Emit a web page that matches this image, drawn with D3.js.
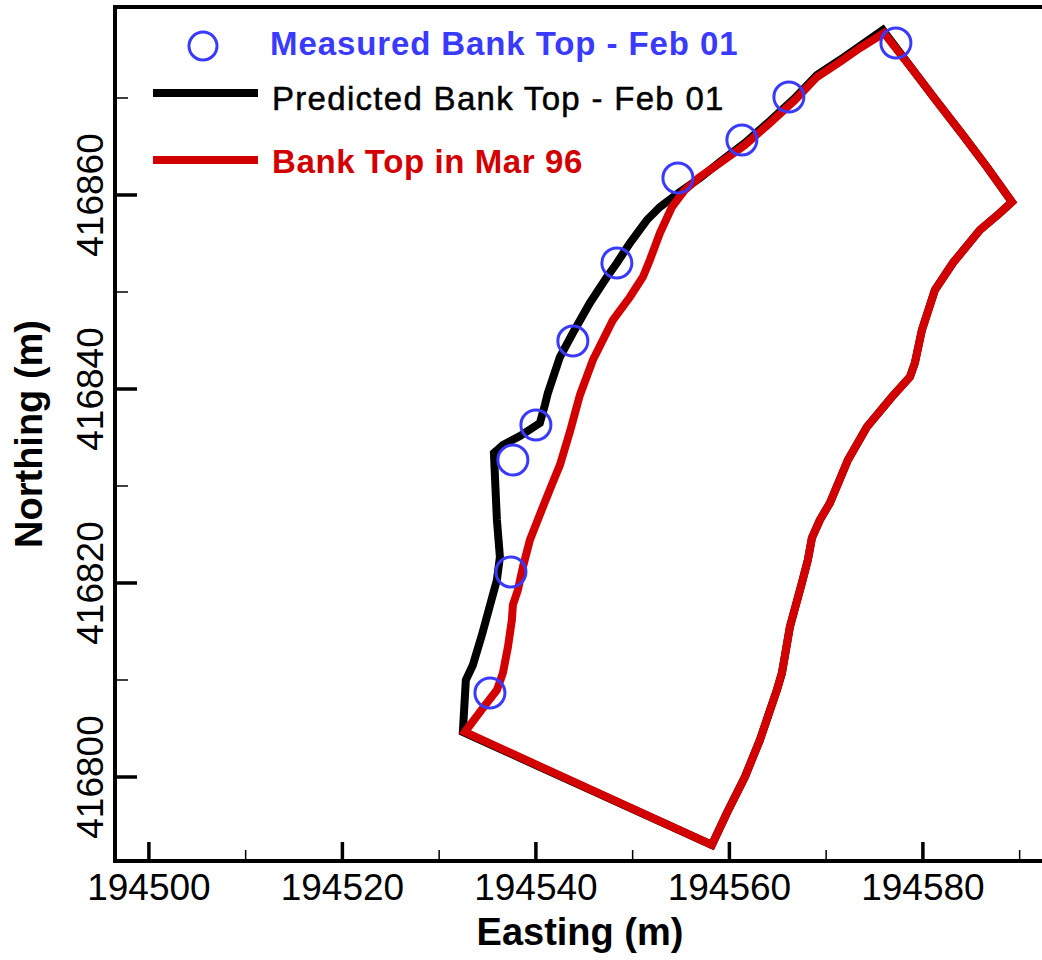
<!DOCTYPE html>
<html>
<head>
<meta charset="utf-8">
<script src="https://cdn.jsdelivr.net/npm/d3@7"></script>
<style>
  body { margin: 0; background: #fff; }
  svg { display: block; }
</style>
</head>
<body>
<svg id="chart" width="1042" height="960"></svg>
<script>
// ---- Axis ticks ----
const eastingMajor = [194500, 194520, 194540, 194560, 194580];
const eastingMinor = [194510, 194530, 194550, 194570, 194590];
const northingMajor = [416800, 416820, 416840, 416860];
const northingMinor = [416810, 416830, 416850, 416870];

// ---- Measured bank top, Feb 2001 ----
const measuredE = [194535.25, 194537.42, 194537.62, 194540.00, 194543.82, 194548.37, 194554.68, 194561.29, 194566.15, 194577.21];
const measuredN = [416808.66, 416821.13, 416832.68, 416836.29, 416844.95, 416852.99, 416861.75, 416865.67, 416870.10, 416875.67];

// ---- Predicted left bank top, Feb 2001 (downstream corner to upstream corner) ----
const predictedE = [194532.45, 194532.76, 194533.49, 194534.42, 194535.04, 194535.97, 194536.28, 194535.97, 194535.66, 194536.59,
                    194538.35, 194540.41, 194540.93, 194541.24, 194542.48, 194543.82, 194545.58, 194547.34, 194548.37, 194549.72,
                    194551.47, 194552.82, 194554.88, 194556.95, 194559.02, 194561.60, 194564.19, 194566.77, 194569.04, 194571.42,
                    194573.49, 194575.86];
const predictedN = [416804.64, 416810.00, 416811.55, 416814.64, 416816.91, 416820.31, 416822.68, 416826.49, 416833.40, 416834.23,
                    416835.15, 416836.49, 416838.35, 416839.59, 416843.30, 416845.77, 416848.87, 416851.55, 416852.99, 416855.05,
                    416857.42, 416858.76, 416860.31, 416861.75, 416863.40, 416865.36, 416867.63, 416870.00, 416872.37, 416873.92,
                    416875.36, 416877.01];

// ---- Left bank top, Mar 1996 ----
const mar96E = [194532.66, 194534.52, 194535.97, 194536.59, 194537.11, 194537.52, 194537.62, 194538.14, 194538.66, 194539.38,
                194540.72, 194541.76, 194542.48, 194543.51, 194544.55, 194545.89, 194547.96, 194549.72, 194551.06, 194551.78,
                194552.82, 194554.06, 194555.40, 194556.95, 194559.02, 194561.60, 194564.19, 194566.77, 194569.04, 194571.42,
                194573.49, 194575.97];
const mar96N = [416804.64, 416807.11, 416808.97, 416810.72, 416813.40, 416816.19, 416817.73, 416819.28, 416821.65, 416824.43,
                416827.84, 416830.41, 416832.16, 416835.57, 416839.38, 416842.99, 416847.11, 416849.48, 416851.55, 416853.30,
                416856.08, 416858.76, 416860.52, 416861.86, 416863.30, 416865.15, 416867.42, 416869.79, 416872.16, 416873.71,
                416875.15, 416876.70];

// ---- Shared outer boundary: upstream end, right bank, downstream end ----
const outerE = [194578.97, 194581.24, 194584.13, 194586.61, 194589.20, 194587.96, 194585.89, 194583.10, 194581.24, 194579.90,
                194579.17, 194578.66, 194576.80, 194574.21, 194572.25, 194570.39, 194569.35, 194568.53, 194568.11, 194567.49,
                194566.25, 194565.43, 194564.91, 194563.15, 194561.60, 194559.74, 194558.19];
const outerN = [416872.89, 416869.90, 416866.19, 416862.89, 416859.28, 416858.14, 416856.39, 416852.99, 416850.21, 416846.08,
                416842.68, 416841.24, 416839.18, 416836.08, 416832.68, 416828.25, 416826.49, 416824.64, 416822.37, 416820.00,
                416815.46, 416810.72, 416808.97, 416803.81, 416800.00, 416796.29, 416792.99];

(function drawChart() {
  const svg = d3.select("#chart");
  const pLeft = 116, pRight = 1044.8, pTop = 7, pBottom = 861;
  const x = d3.scaleLinear().domain([194496.6, 194592.6]).range([pLeft, pRight]);
  const y = d3.scaleLinear().domain([416791.34, 416879.38]).range([pBottom, pTop]);

  const BLUE = "#3a3aff", RED = "#d20000", BLACK = "#000";
  const FONT = "'Liberation Sans', Arial, Helvetica, sans-serif";

  const toPts = (es, ns) => es.map((e, i) => [e, ns[i]]);
  const predictedLoop = toPts(predictedE, predictedN).concat(toPts(outerE, outerN));
  const mar96Loop = toPts(mar96E, mar96N).concat(toPts(outerE, outerN));

  const loop = d3.line().x(d => x(d[0])).y(d => y(d[1])).curve(d3.curveLinearClosed);

  const plot = svg.append("g");
  plot.append("path").attr("d", loop(predictedLoop))
    .attr("fill", "none").attr("stroke", BLACK).attr("stroke-width", 8)
    .attr("stroke-linejoin", "miter").attr("stroke-miterlimit", 10);
  plot.append("path").attr("d", loop(mar96Loop))
    .attr("fill", "none").attr("stroke", RED).attr("stroke-width", 8)
    .attr("stroke-linejoin", "miter").attr("stroke-miterlimit", 10);
  plot.selectAll("circle.meas").data(toPts(measuredE, measuredN)).join("circle")
    .attr("class", "meas")
    .attr("cx", d => x(d[0])).attr("cy", d => y(d[1])).attr("r", 15)
    .attr("fill", "none").attr("stroke", BLUE).attr("stroke-width", 3);

  // Frame
  const frame = svg.append("g").attr("stroke", BLACK).attr("fill", "none");
  frame.append("line").attr("x1", pLeft - 1).attr("x2", 1042).attr("y1", pTop).attr("y2", pTop).attr("stroke-width", 4);
  frame.append("line").attr("x1", pLeft - 1).attr("x2", pLeft - 1).attr("y1", pTop - 2).attr("y2", pBottom + 2).attr("stroke-width", 4);
  frame.append("line").attr("x1", pLeft - 3).attr("x2", 1042).attr("y1", pBottom).attr("y2", pBottom).attr("stroke-width", 4);

  // Ticks, pointing inward
  const ticks = svg.append("g").attr("stroke", BLACK);
  ticks.selectAll("line.xmaj").data(eastingMajor).join("line").attr("class", "xmaj")
    .attr("x1", d => x(d)).attr("x2", d => x(d)).attr("y1", pBottom).attr("y2", pBottom - 19).attr("stroke-width", 3.5);
  ticks.selectAll("line.xmin").data(eastingMinor).join("line").attr("class", "xmin")
    .attr("x1", d => x(d)).attr("x2", d => x(d)).attr("y1", pBottom).attr("y2", pBottom - 11).attr("stroke-width", 1.5);
  ticks.selectAll("line.ymaj").data(northingMajor).join("line").attr("class", "ymaj")
    .attr("x1", pLeft - 1).attr("x2", pLeft + 21).attr("y1", d => y(d)).attr("y2", d => y(d)).attr("stroke-width", 3.5);
  ticks.selectAll("line.ymin").data(northingMinor).join("line").attr("class", "ymin")
    .attr("x1", pLeft - 1).attr("x2", pLeft + 12).attr("y1", d => y(d)).attr("y2", d => y(d)).attr("stroke-width", 1.5);

  // Tick labels
  svg.append("g").selectAll("text").data(eastingMajor).join("text")
    .attr("x", d => x(d)).attr("y", 900)
    .attr("text-anchor", "middle").attr("font-family", FONT).attr("font-size", 37)
    .text(d => d);
  svg.append("g").selectAll("text").data(northingMajor).join("text")
    .attr("transform", d => `translate(103,${y(d)}) rotate(-90)`)
    .attr("text-anchor", "middle").attr("font-family", FONT).attr("font-size", 37)
    .text(d => d);

  // Axis titles
  svg.append("text").attr("x", 580).attr("y", 945)
    .attr("text-anchor", "middle").attr("font-family", FONT).attr("font-weight", "bold").attr("font-size", 38)
    .text("Easting (m)");
  svg.append("text").attr("transform", `translate(42,${(pTop + pBottom) / 2}) rotate(-90)`)
    .attr("text-anchor", "middle").attr("font-family", FONT).attr("font-weight", "bold").attr("font-size", 38)
    .text("Northing (m)");

  // Legend
  const legend = svg.append("g");
  legend.append("circle").attr("cx", 203).attr("cy", 46).attr("r", 14)
    .attr("fill", "none").attr("stroke", BLUE).attr("stroke-width", 3);
  legend.append("text").attr("x", 270).attr("y", 55)
    .attr("font-family", FONT).attr("font-weight", "bold").attr("font-size", 33)
    .attr("letter-spacing", 0.9).attr("fill", BLUE)
    .text("Measured Bank Top - Feb 01");
  legend.append("line").attr("x1", 153).attr("x2", 258).attr("y1", 93).attr("y2", 93)
    .attr("stroke", BLACK).attr("stroke-width", 8);
  legend.append("text").attr("x", 272).attr("y", 110)
    .attr("font-family", FONT).attr("font-size", 33)
    .attr("letter-spacing", 1.3).attr("fill", BLACK)
    .attr("stroke", BLACK).attr("stroke-width", 0.5)
    .text("Predicted Bank Top - Feb 01");
  legend.append("line").attr("x1", 153).attr("x2", 258).attr("y1", 160).attr("y2", 160)
    .attr("stroke", RED).attr("stroke-width", 8);
  legend.append("text").attr("x", 272).attr("y", 173)
    .attr("font-family", FONT).attr("font-weight", "bold").attr("font-size", 33)
    .attr("letter-spacing", 0.6).attr("fill", RED)
    .text("Bank Top in Mar 96");
})();
</script>
</body>
</html>
